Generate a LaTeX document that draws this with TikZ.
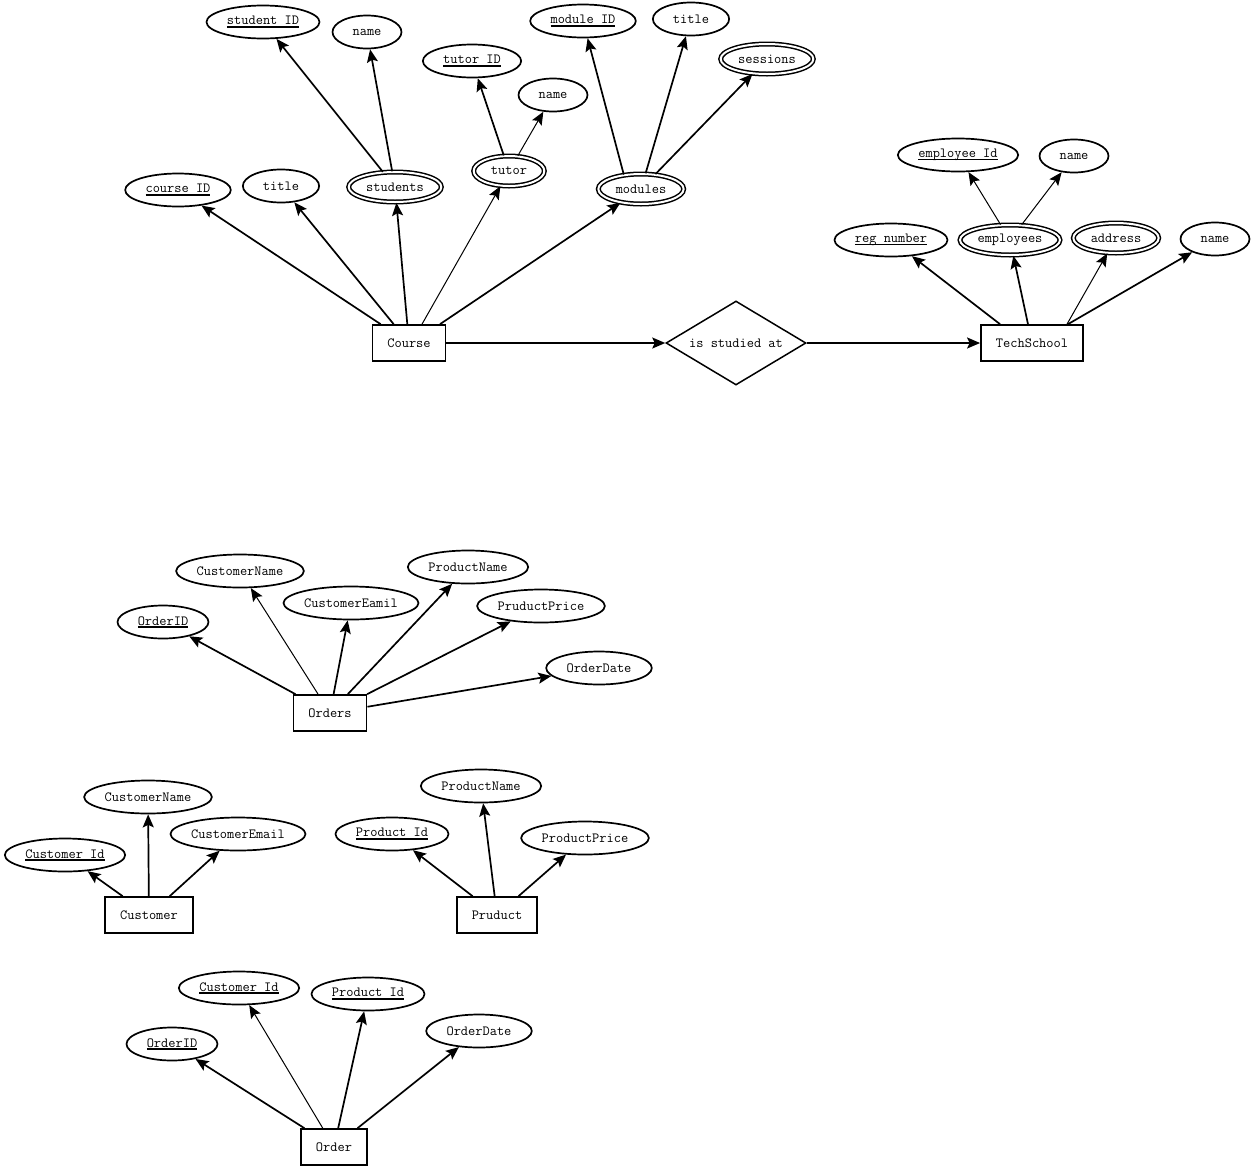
\documentclass[tikz,border=0pt]{standalone}
\usepackage{fontspec}
\usepackage{tikz}
\usetikzlibrary{shapes.geometric, arrows.meta, positioning, calc}

\newcommand{\keyattr}[1]{\setbox0\hbox{#1}\rlap{\rule[-2.6pt]{\wd0}{1.4pt}}\box0}
\newcommand{\erfont}{\ttfamily\fontsize{14}{16}\selectfont}

\begin{document}
\begin{tikzpicture}[
    x=1pt, y=-1pt,
    attr/.style={ellipse, draw, line width=1.7pt, minimum height=33pt, inner xsep=14pt, inner ysep=2pt, font=\erfont,
        execute at begin node={\setbox1\hbox\bgroup},
        execute at end node={\egroup\hbox to 0.72\wd1{\hss\box1\hss}}},
    multi/.style={attr, double, double distance=2pt, line width=1.5pt, minimum height=30pt, inner xsep=12pt},
    entity/.style={rectangle, draw, line width=1.7pt, minimum height=36pt, inner xsep=15pt, font=\erfont},
    rel/.style={diamond, draw, line width=1.5pt, minimum width=140pt, minimum height=84pt, aspect=1.67, inner sep=0pt, font=\erfont},
    link/.style={-{Stealth[length=13pt, width=11pt, inset=2.5pt]}, line width=1.7pt},
    thinlink/.style={link, line width=1pt}
]
\useasboundingbox (0,0) rectangle (1253,1168);

% Nodes: course part
\node[entity] (course) at (409,343) {Course};
\node[rel] (studied) at (736,343) {is studied at};
\node[entity] (school) at (1032,343) {TechSchool};

\node[attr] (cid) at (178,190) {\keyattr{course ID}};
\node[attr] (ctitle) at (281,186) {title};
\node[multi] (students) at (395,187) {students};
\node[multi] (tutor) at (509,171) {tutor};
\node[multi] (modules) at (641,189) {modules};

\node[attr] (sid) at (263,22) {\keyattr{student ID}};
\node[attr] (sname) at (367,32) {name};
\node[attr] (tid) at (472,61) {\keyattr{tutor ID}};
\node[attr] (tname) at (553,95) {name};
\node[attr] (mid) at (583,21) {\keyattr{module ID}};
\node[attr] (mtitle) at (691,19) {title};
\node[multi] (sessions) at (767,59) {sessions};

% Nodes: school part
\node[attr] (regno) at (891,240) {\keyattr{reg number}};
\node[multi] (employees) at (1010,240) {employees};
\node[multi] (address) at (1116,238) {address};
\node[attr] (schname) at (1215,239) {name};
\node[attr] (eid) at (958,155) {\keyattr{employee Id}};
\node[attr] (ename) at (1074,156) {name};

% Arrows: course part
\draw[link] (course) -- (cid);
\draw[link] (course) -- (ctitle);
\draw[link] (course) -- (students);
\draw[thinlink] ([xshift=13pt]course.north) -- (tutor);
\draw[link] ([xshift=31pt]course.north) -- (modules);
\draw[link] (students) -- (sid);
\draw[link] (students) -- (sname);
\draw[link] (tutor) -- (tid);
\draw[thinlink] (tutor) -- (tname);
\draw[link] (modules.140) -- (mid);
\draw[link] (modules) -- (mtitle);
\draw[link] (modules) -- (sessions);

\draw[link] (course) -- (studied);
\draw[link] (studied) -- (school);

% Arrows: school part
\draw[link] ([xshift=-32pt]school.north) -- (regno);
\draw[link] (school) -- (employees);
\draw[thinlink] ([xshift=35pt]school.north) -- (address);
\draw[link] ([xshift=36pt]school.north) -- (schname);
\draw[thinlink] (employees) -- (eid);
\draw[thinlink] (employees) -- (ename);

% Orders
\node[entity] (orders) at (330,713) {Orders};
\node[attr] (o1) at (163,622) {\keyattr{OrderID}};
\node[attr] (o2) at (240,571) {CustomerName};
\node[attr] (o3) at (351,603) {CustomerEamil};
\node[attr] (o4) at (468,567) {ProductName};
\node[attr] (o5) at (541,606) {PruductPrice};
\node[attr] (o6) at (599,668) {OrderDate};

\draw[link] (orders) -- (o1);
\draw[thinlink] (orders) -- (o2);
\draw[link] (orders) -- (o3);
\draw[link] (orders) -- (o4);
\draw[link] (orders) -- (o5);
\draw[link] (orders) -- (o6);

% Customer
\node[entity] (customer) at (149,915) {Customer};
\node[attr] (c1) at (65,855) {\keyattr{Customer Id}};
\node[attr] (c2) at (148,797) {CustomerName};
\node[attr] (c3) at (238,834) {CustomerEmail};

\draw[link] (customer) -- (c1);
\draw[link] (customer) -- (c2);
\draw[link] (customer) -- (c3);

% Pruduct
\node[entity] (product) at (497,915) {Pruduct};
\node[attr] (p1) at (392,834) {\keyattr{Product Id}};
\node[attr] (p2) at (481,786) {ProductName};
\node[attr] (p3) at (585,838) {ProductPrice};

\draw[link] (product) -- (p1);
\draw[link] (product) -- (p2);
\draw[link] (product) -- (p3);

% Order
\node[entity] (order) at (334,1147) {Order};
\node[attr] (r1) at (172,1044) {\keyattr{OrderID}};
\node[attr] (r2) at (239,988) {\keyattr{Customer Id}};
\node[attr] (r3) at (368,994) {\keyattr{Product Id}};
\node[attr] (r4) at (479,1031) {OrderDate};

\draw[link] (order) -- (r1);
\draw[thinlink] (order) -- (r2);
\draw[link] (order) -- (r3);
\draw[link] (order) -- (r4);
\end{tikzpicture}
\end{document}
